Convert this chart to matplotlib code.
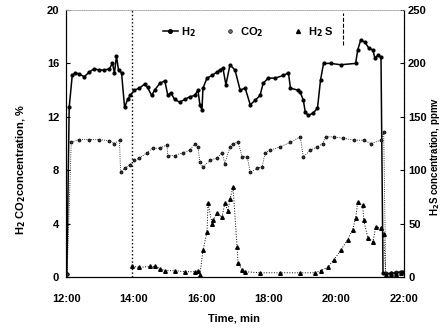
import matplotlib
matplotlib.use("Agg")
import matplotlib.pyplot as plt
from matplotlib.lines import Line2D

plt.rcParams['font.family'] = ['Liberation Sans', 'DejaVu Sans']
plt.rcParams['font.weight'] = 'bold'

# time in hours
h2_time = [12.02, 12.09, 12.18, 12.27, 12.39, 12.54, 12.68, 12.83, 12.98, 13.13,
           13.28, 13.37, 13.43, 13.49, 13.55, 13.64, 13.73, 13.82, 13.90, 14.02,
           14.17, 14.32, 14.41, 14.53, 14.62, 14.77, 14.92, 15.01, 15.10, 15.21,
           15.36, 15.51, 15.66, 15.81, 15.90, 15.96, 16.02, 16.05, 16.17, 16.32,
           16.46, 16.55, 16.64, 16.73, 16.85, 17.00, 17.15, 17.30, 17.45, 17.60,
           17.74, 17.83, 17.98, 18.19, 18.43, 18.58, 18.64, 18.85, 18.93, 19.02,
           19.08, 19.17, 19.32, 19.44, 19.53, 19.62, 19.83, 20.13, 20.57, 20.63,
           20.72, 20.84, 20.96, 21.08, 21.14, 21.23, 21.32, 21.38, 21.46, 21.61,
           21.76, 21.91, 21.97]
h2_pct = [0.2, 12.7, 15.1, 15.3, 15.2, 15.0, 15.35, 15.6, 15.5, 15.5,
          15.6, 16.0, 15.3, 16.55, 15.5, 15.3, 12.7, 13.3, 13.6, 14.0,
          14.15, 14.45, 14.2, 13.6, 14.0, 14.5, 14.7, 13.6, 13.8, 13.3,
          13.1, 13.3, 13.5, 13.6, 14.0, 12.9, 12.5, 14.15, 14.9, 15.1,
          15.35, 15.5, 15.65, 14.4, 15.9, 15.5, 14.0, 14.15, 12.9, 13.25,
          13.6, 14.5, 14.9, 14.9, 15.1, 15.3, 14.15, 14.0, 13.85, 13.25,
          12.35, 12.1, 12.3, 12.65, 14.75, 16.0, 16.0, 15.9, 16.0, 17.0,
          17.75, 17.6, 17.15, 17.0, 16.4, 16.6, 16.5, 0.3, 0.2, 0.3,
          0.3, 0.4, 0.4]

co2_time = [12.03, 12.15, 12.39, 12.68, 12.98, 13.28, 13.43, 13.58, 13.61, 13.73,
            13.88, 14.02, 14.17, 14.38, 14.56, 14.77, 14.98, 15.01, 15.21, 15.45,
            15.66, 15.81, 15.90, 15.96, 16.05, 16.26, 16.46, 16.61, 16.70, 16.85,
            16.94, 17.09, 17.21, 17.36, 17.45, 17.65, 17.80, 17.89, 18.04, 18.34,
            18.64, 18.93, 19.02, 19.23, 19.44, 19.59, 19.68, 19.92, 20.21, 20.51,
            20.81, 21.02, 21.32, 21.40, 21.46, 21.61, 21.76, 21.91]
co2_pct = [0.2, 10.1, 10.3, 10.3, 10.3, 10.2, 10.0, 10.25, 7.85, 8.15,
           8.4, 8.75, 8.9, 9.3, 9.65, 9.65, 9.9, 9.1, 9.1, 9.3,
           9.5, 10.0, 9.75, 8.6, 8.25, 8.75, 8.9, 9.3, 8.5, 9.75,
           10.0, 10.1, 9.0, 9.0, 7.85, 8.15, 8.25, 9.3, 9.5, 9.75,
           10.1, 10.5, 9.0, 9.5, 9.75, 10.0, 10.5, 10.5, 10.4, 10.25,
           10.25, 10.0, 10.25, 10.85, 0.3, 0.3, 0.4, 0.4]

h2s_time = [13.96, 14.17, 14.47, 14.62, 14.77, 14.92, 15.21, 15.51, 15.81, 15.90,
            15.96, 16.05, 16.17, 16.20, 16.32, 16.35, 16.46, 16.61, 16.70, 16.79,
            16.85, 16.94, 17.06, 17.09, 17.21, 17.30, 17.74, 18.34, 18.93, 19.38,
            19.53, 19.74, 19.92, 20.13, 20.33, 20.48, 20.57, 20.63, 20.78, 20.81,
            20.93, 21.08, 21.17, 21.32, 21.40, 21.46, 21.61, 21.76, 21.91]
h2s_ppmv = [10, 9, 10, 10, 8, 6, 6, 5, 5, 6,
            2, 25, 42, 69, 50, 53, 60, 56, 69, 62,
            73, 84, 28, 13, 7, 5, 4, 4, 4, 4,
            6, 9, 16, 25, 35, 44, 55, 70, 67, 53,
            37, 33, 47, 46, 40, 2, 3, 3, 4]

hour_ticks = [12, 14, 16, 18, 20, 22]
hour_labels = ['12:00', '14:00', '16:00', '18:00', '20:00', '22:00']

fig = plt.figure(figsize=(4.41, 3.33), dpi=100)
ax = fig.add_axes([0.150, 0.168, 0.766, 0.802])
ax2 = ax.twinx()

ax.plot(h2_time, h2_pct, '-o', color='black', lw=1.1, ms=2.0)
ax.plot(co2_time, co2_pct, linestyle=':', lw=0.6, marker='o', ms=2.2,
        mfc='#333333', mec='black', mew=0.5, color='black')
ax2.plot(h2s_time, h2s_ppmv, linestyle=':', lw=0.7, marker='^', ms=2.6, color='black')

ax.axvline(13.96, color='black', lw=1.0, ls=':')
ax.axvline(20.21, ymin=0.87, ymax=0.99, color='black', lw=0.8, ls='--')

ax.set_xlim(12, 22)
ax.set_ylim(0, 20)
ax2.set_ylim(0, 250)
ax.set_xticks(hour_ticks)
ax.set_xticklabels(hour_labels)
ax.set_yticks([0, 4, 8, 12, 16, 20])
ax2.set_yticks([0, 50, 100, 150, 200, 250])

for a in (ax, ax2):
    a.tick_params(direction='in', length=3, labelsize=8, pad=5)
    a.spines['top'].set_linestyle(':')
    a.spines['top'].set_color('#aaaaaa')
    a.spines['top'].set_linewidth(0.6)
ax2.tick_params(axis='y', pad=3)
ax2.spines['right'].set_linestyle('--')
ax2.spines['right'].set_linewidth(0.8)
ax.tick_params(axis='x', length=0, pad=12)
for lab in ax.get_xticklabels() + ax.get_yticklabels() + ax2.get_yticklabels():
    lab.set_fontweight('bold')

# legend: H2 with line, the other two as markers only
handles = [
    Line2D([], [], color='black', lw=1.1, marker='o', ms=2.6),
    Line2D([], [], ls='none', marker='o', ms=2.6, mfc='#777777', mec='black', mew=0.5),
    Line2D([], [], ls='none', marker='^', ms=2.8, color='black'),
]
ax.legend(handles, ['H$_2$', 'CO$_2$', 'H$_2$ S'], loc='upper center',
          bbox_to_anchor=(0.54, 0.98), ncol=3, frameon=False, handlelength=1.3,
          handletextpad=0.3, columnspacing=2.4, prop={'weight': 'bold', 'size': 8})

fig.text(0.53, 0.045, 'Time, min', ha='center', va='center', fontsize=8, fontweight='bold')
fig.text(0.048, 0.49, 'H$_2$ CO$_2$concentration, %', rotation=90, ha='center',
         va='center', fontsize=8, fontweight='bold')
fig.text(0.987, 0.53, 'H$_2$S concentration, ppmv', rotation=90, ha='center',
         va='center', fontsize=7, fontweight='bold')

fig.savefig('out.png', dpi=100)
